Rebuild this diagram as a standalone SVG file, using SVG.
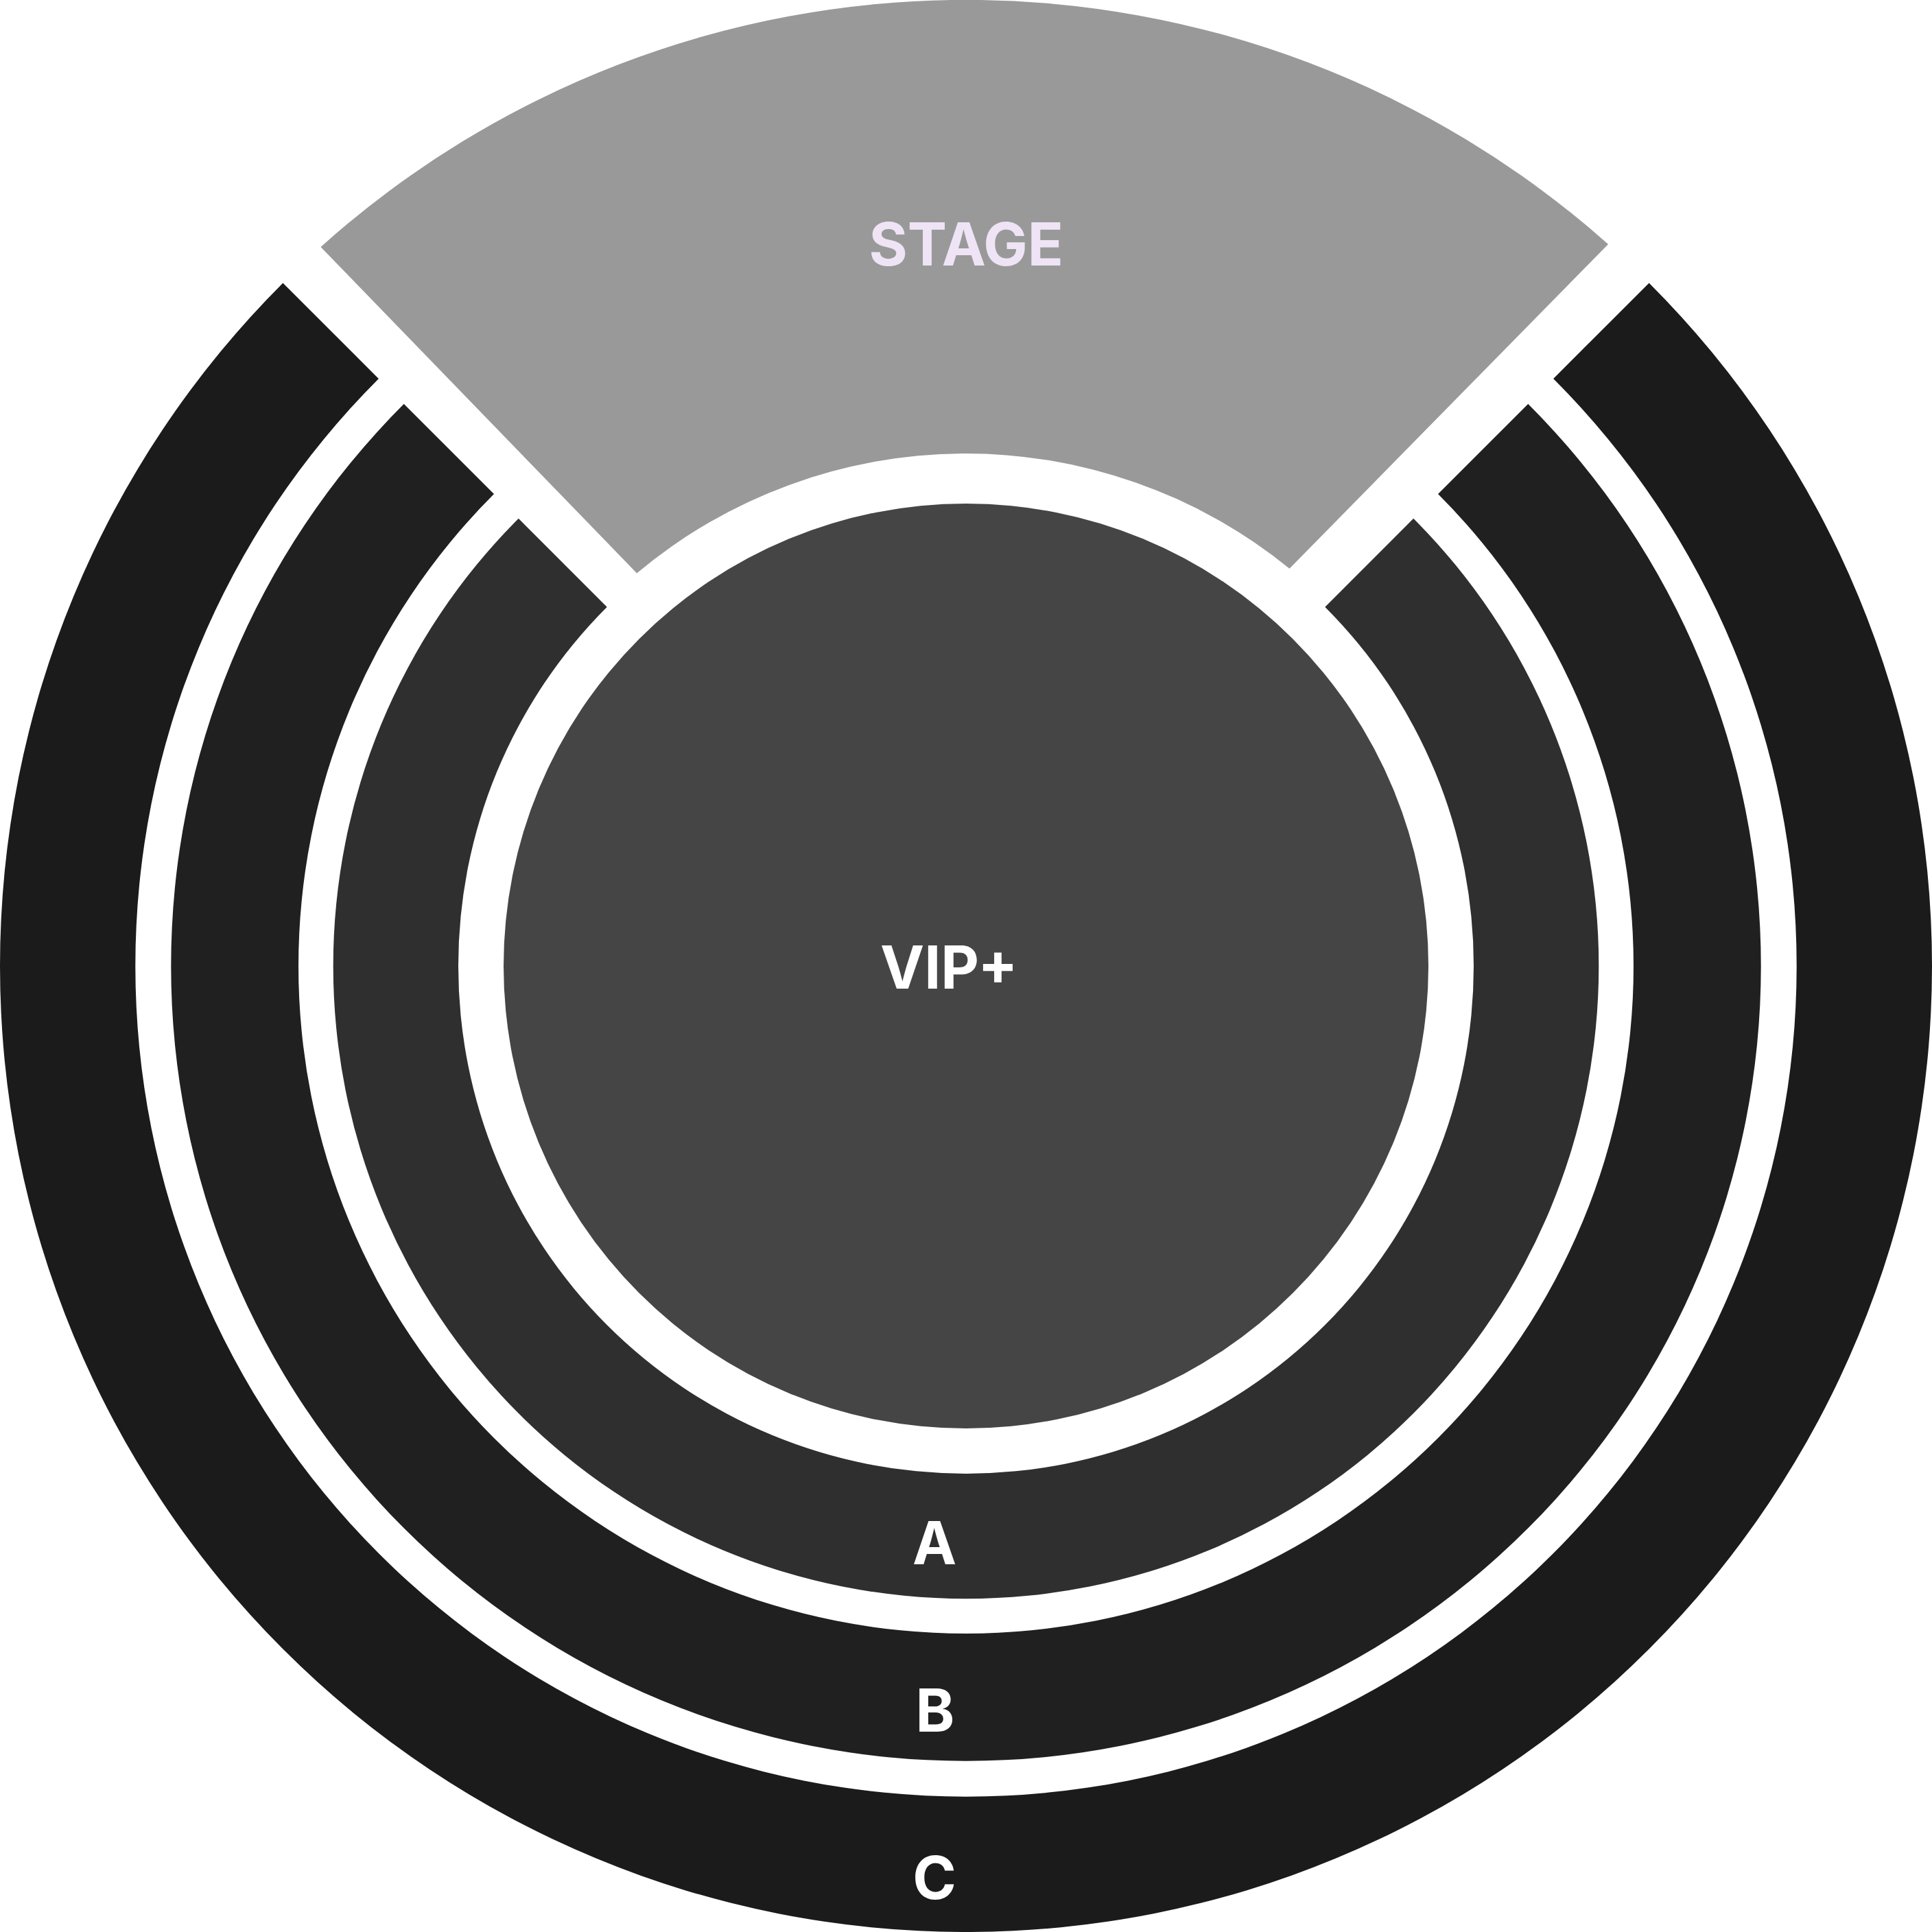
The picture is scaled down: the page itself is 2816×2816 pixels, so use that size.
<svg xmlns="http://www.w3.org/2000/svg" width="2816" height="2816" viewBox="0 0 2816 2816">
  <style>
    .lbl { font-family: Inter, "Liberation Sans", sans-serif; font-weight: 700; font-size: 86px; text-anchor: middle; fill: #FFFFFF; }
    .stage-lbl { fill: #EFE4F5; }
  </style>
  <rect width="2816" height="2816" fill="#FFFFFF"/>
  <g id="stage">
    <path d="M 467.5 360 A 1408 1408 0 0 1 2344 356 L 1879.5 828.8 A 747 747 0 0 0 928.2 835.4 Z" fill="#999999"/>
    <text class="lbl stage-lbl" x="1408.3" y="387">STAGE</text>
  </g>
  <g id="section-c">
    <path d="M 2403.6 412.4 A 1408 1408 0 1 1 412.4 412.4 L 551.9 551.9 A 1210.7 1210.7 0 1 0 2264.1 551.9 Z" fill="#1B1B1B"/>
    <text class="lbl" x="1362" y="2768">C</text>
  </g>
  <g id="section-b">
    <path d="M 2227.3 588.7 A 1158.7 1158.7 0 1 1 588.7 588.7 L 720 720 A 973 973 0 1 0 2096 720 Z" fill="#202020"/>
    <text class="lbl" x="1363" y="2524">B</text>
  </g>
  <g id="section-a">
    <path d="M 2060.2 755.8 A 922.3 922.3 0 1 1 755.8 755.8 L 884.7 884.7 A 740 740 0 1 0 1931.3 884.7 Z" fill="#2F2F2F"/>
    <text class="lbl" x="1362" y="2280">A</text>
  </g>
  <g id="vip-plus">
    <circle cx="1408" cy="1408" r="674" fill="#454545"/>
    <text class="lbl" x="1383.3" y="1440.7">VIP+</text>
  </g>
  <g id="connectors"></g>
</svg>
